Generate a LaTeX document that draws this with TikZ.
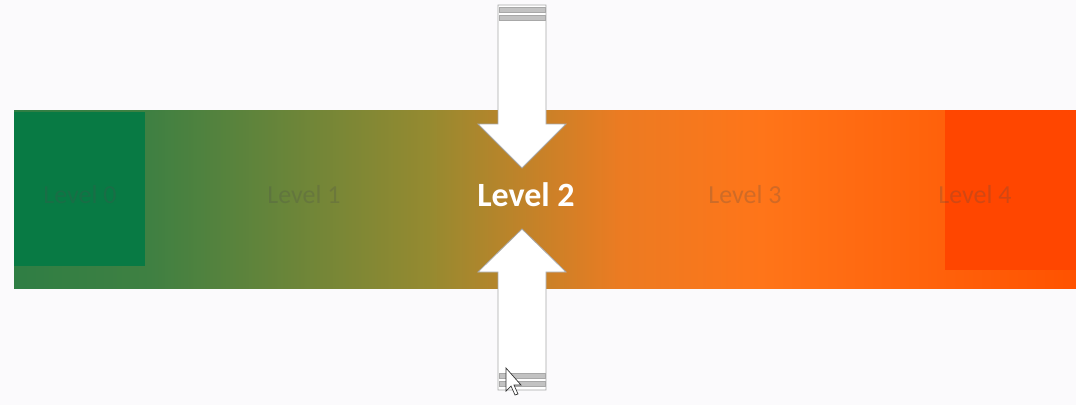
\documentclass[tikz,border=0pt]{standalone}
\usepackage{fontspec}
\setmainfont{Carlito}
\definecolor{pagebg}{HTML}{FBFAFC}
\definecolor{gA}{HTML}{2F7E44}
\definecolor{gB}{HTML}{3F8042}
\definecolor{gC}{HTML}{968A30}
\definecolor{gD}{HTML}{EC7B22}
\definecolor{gE}{HTML}{FF7519}
\definecolor{gF}{HTML}{FF5200}
\definecolor{greenblock}{HTML}{087A44}
\definecolor{redblock}{HTML}{FF4600}
\definecolor{edgegrey}{HTML}{A8A8A8}
\tikzset{
  levellabel/.style={text=black!70, opacity=0.25, font=\fontsize{26}{30}\selectfont},
  pointer/.style={fill=white, draw=edgegrey, line width=0.8pt},
  band/.style={fill=edgegrey!70, draw=edgegrey}
}
\begin{document}
\begin{tikzpicture}[x=1pt,y=-1pt]
\fill[pagebg] (0,0) rectangle (1076,405);
\useasboundingbox (0,0) rectangle (1076,405);
% colour bar
\shade[left color=gA, right color=gB] (14,110) rectangle (151,288);
\shade[left color=gB, right color=gC] (150,110) rectangle (431,288);
\shade[left color=gC, right color=gD] (430,110) rectangle (621,288);
\shade[left color=gD, right color=gE] (620,110) rectangle (761,288);
\shade[left color=gE, right color=gF] (760,110) rectangle (1076,288);
\fill[greenblock] (14,112) rectangle (145,266);
\fill[redblock] (945,110) rectangle (1076,270);
% labels
\node[levellabel] (l0) at (80,195) {Level 0};
\node[levellabel] (l1) at (304,195) {Level 1};
\node[text=white, font=\bfseries\fontsize{34}{40}\selectfont] (l2) at (526,195) {Level 2};
\node[levellabel] (l3) at (745,195) {Level 3};
\node[levellabel] (l4) at (975,195) {Level 4};
% pointers
\draw[pointer] (498,5) -- (546,5) -- (546,124) -- (566,124) -- (522,168)
  -- (478,124) -- (498,124) -- cycle;
\draw[band] (499,7) rectangle (545,12);
\draw[band] (499,15) rectangle (545,20);
\draw[pointer] (498,390) -- (546,390) -- (546,272) -- (566,272) -- (522,229)
  -- (478,272) -- (498,272) -- cycle;
\draw[band] (499,373) rectangle (545,378);
\draw[band] (499,381) rectangle (545,386);
% cursor
\draw[fill=white, draw=black!80, line width=0.7pt] (506,368) -- (506,391) -- (511,386)
  -- (515,395) -- (518,394) -- (514,385) -- (521,385) -- cycle;
\end{tikzpicture}
\end{document}
